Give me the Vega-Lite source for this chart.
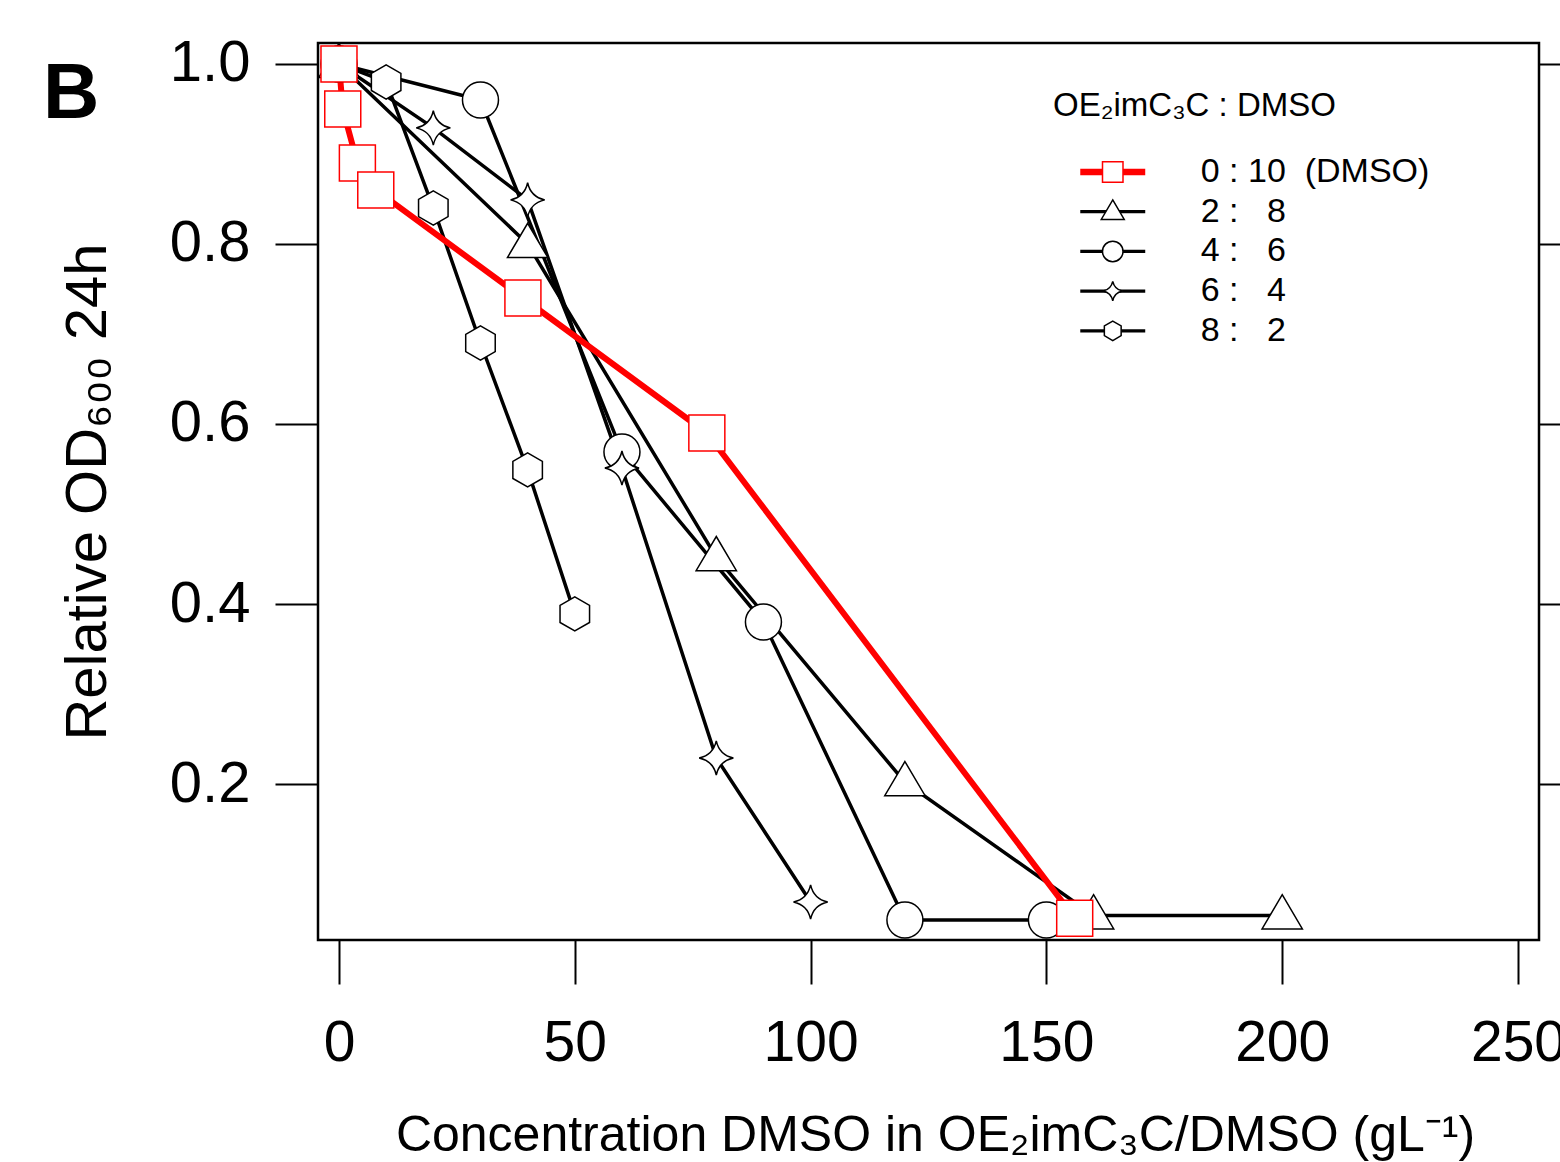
{
  "$schema": "https://vega.github.io/schema/vega-lite/v6.json",
  "width": 1221,
  "height": 897,
  "autosize": {"type": "none"},
  "padding": {"left": 318, "top": 43, "right": 21, "bottom": 222},
  "background": "white",
  "config": {
    "font": "Liberation Sans",
    "view": {"stroke": "black", "strokeWidth": 2.5},
    "axis": {"grid": false, "tickColor": "black", "labelColor": "black", "titleColor": "black", "titleFontWeight": "normal", "tickWidth": 2, "labelFlush": false, "labelOverlap": false, "labelBound": false},
    "title": {"color": "black"}
  },
  "title": {"text": "B", "anchor": "start", "frame": "group", "orient": "none", "offset": 0, "dx": -275, "dy": 75, "baseline": "alphabetic", "fontSize": 78, "fontWeight": "bold", "font": "Liberation Sans"},
  "data": {
    "values": [
      {"ratio": "2:8", "x": 0, "y": 1.0},
      {"ratio": "2:8", "x": 40, "y": 0.80},
      {"ratio": "2:8", "x": 80, "y": 0.452},
      {"ratio": "2:8", "x": 120, "y": 0.202},
      {"ratio": "2:8", "x": 160, "y": 0.054},
      {"ratio": "2:8", "x": 200, "y": 0.054},
      {"ratio": "4:6", "x": 0, "y": 1.0},
      {"ratio": "4:6", "x": 30, "y": 0.96},
      {"ratio": "4:6", "x": 60, "y": 0.569},
      {"ratio": "4:6", "x": 90, "y": 0.38},
      {"ratio": "4:6", "x": 120, "y": 0.049},
      {"ratio": "4:6", "x": 150, "y": 0.049},
      {"ratio": "6:4", "x": 0, "y": 1.0},
      {"ratio": "6:4", "x": 20, "y": 0.929},
      {"ratio": "6:4", "x": 40, "y": 0.849},
      {"ratio": "6:4", "x": 60, "y": 0.551},
      {"ratio": "6:4", "x": 80, "y": 0.229},
      {"ratio": "6:4", "x": 100, "y": 0.069},
      {"ratio": "8:2", "x": 0, "y": 1.0},
      {"ratio": "8:2", "x": 10, "y": 0.98},
      {"ratio": "8:2", "x": 20, "y": 0.84},
      {"ratio": "8:2", "x": 30, "y": 0.69},
      {"ratio": "8:2", "x": 40, "y": 0.549},
      {"ratio": "8:2", "x": 50, "y": 0.389},
      {"ratio": "0:10", "x": 0, "y": 1.0},
      {"ratio": "0:10", "x": 0.8, "y": 0.95},
      {"ratio": "0:10", "x": 3.9, "y": 0.89},
      {"ratio": "0:10", "x": 7.8, "y": 0.86},
      {"ratio": "0:10", "x": 39, "y": 0.74},
      {"ratio": "0:10", "x": 78, "y": 0.59},
      {"ratio": "0:10", "x": 156, "y": 0.051}
    ]
  },
  "layer": [
    {
      "transform": [{"filter": "datum.ratio !== '0:10'"}],
      "mark": {"type": "line", "strokeWidth": 3.5},
      "encoding": {
        "x": {
          "field": "x", "type": "quantitative",
          "scale": {"domain": [-4.45, 254.45], "nice": false, "zero": false},
          "axis": {"orient": "bottom", "values": [0, 50, 100, 150, 200, 250], "tickSize": 44, "labelFontSize": 57, "labelPadding": 31, "title": "Concentration DMSO in OE₂imC₃C/DMSO (gL⁻¹)", "titleFontSize": 50, "titlePadding": 39, "titleX": 617, "domain": false}
        },
        "y": {
          "field": "y", "type": "quantitative",
          "scale": {"domain": [0.0267, 1.0233], "nice": false, "zero": false},
          "axis": {"orient": "left", "values": [0.2, 0.4, 0.6, 0.8, 1.0], "format": ".1f", "tickSize": 43, "labelFontSize": 58, "labelPadding": 25, "title": "Relative OD₆₀₀ 24h", "titleFontSize": 58, "titlePadding": 52, "domain": false}
        },
        "color": {
          "field": "ratio", "type": "nominal",
          "scale": {"domain": ["0:10", "2:8", "4:6", "6:4", "8:2"], "range": ["#ff0000", "black", "black", "black", "black"]},
          "legend": {
            "orient": "none", "legendX": 735, "legendY": 47, "padding": 0,
            "title": "OE₂imC₃C : DMSO", "titleFontSize": 33, "titleFontWeight": "normal", "titleColor": "black", "titlePadding": 32, "titleLimit": 2000,
            "labelFontSize": 34, "labelColor": "black", "labelOffset": 71, "rowPadding": 5.7, "labelLimit": 2000,
            "symbolSize": 420, "symbolOffset": 42.75, "symbolType": "M-3.17,0L3.17,0",
            "labelExpr": "datum.value === '0:10' ? '0 : 10\u00a0\u00a0(DMSO)' : replace(datum.value, ':', ' : \u2007')",
            "encode": {"symbols": {"update": {"strokeWidth": {"signal": "datum.value === '0:10' ? 6.5 : 3.2"}}}}
          }
        }
      }
    },
    {
      "transform": [{"filter": "datum.ratio === '0:10'"}],
      "mark": {"type": "line", "strokeWidth": 6},
      "encoding": {
        "x": {"field": "x", "type": "quantitative"},
        "y": {
          "field": "y", "type": "quantitative",
          "scale": {"domain": [0.0267, 1.0233], "nice": false, "zero": false},
          "axis": null
        },
        "color": {"field": "ratio", "type": "nominal"}
      }
    },
    {
      "mark": {"type": "point", "filled": true, "fill": "white", "opacity": 1, "size": 1296, "strokeWidth": 1.5},
      "encoding": {
        "x": {"field": "x", "type": "quantitative"},
        "y": {
          "field": "y", "type": "quantitative",
          "scale": {"domain": [0.0267, 1.0233], "nice": false, "zero": false},
          "axis": {"orient": "right", "values": [0.2, 0.4, 0.6, 0.8, 1.0], "tickSize": 25, "labels": false, "title": null, "domain": false}
        },
        "stroke": {
          "field": "ratio", "type": "nominal",
          "scale": {"range": ["#ff0000", "black", "black", "black", "black"]},
          "legend": {
            "orient": "none", "legendX": 735, "legendY": 47, "padding": 0,
            "title": "OE₂imC₃C : DMSO", "titleFontSize": 33, "titleFontWeight": "normal", "titleOpacity": 0, "titlePadding": 32, "titleLimit": 2000,
            "labelFontSize": 34, "labelOpacity": 0, "labelOffset": 71, "rowPadding": 5.7, "labelLimit": 2000,
            "symbolSize": 420, "symbolOffset": 42.75, "symbolStrokeWidth": 1.5,
            "labelExpr": "datum.value === '0:10' ? '0 : 10\u00a0\u00a0(DMSO)' : replace(datum.value, ':', ' : \u2007')",
            "encode": {"symbols": {"update": {"fill": {"value": "white"}, "strokeWidth": {"value": 1.5}}}}
          }
        },
        "shape": {
          "field": "ratio", "type": "nominal",
          "scale": {"range": ["square", "M0,-1.15L1.12,0.75L-1.12,0.75Z", "circle", "M0,-0.95Q0.17,-0.17,0.95,0Q0.17,0.17,0,0.95Q-0.17,0.17,-0.95,0Q-0.17,-0.17,0,-0.95Z", "M0,-0.95L0.82,-0.475L0.82,0.475L0,0.95L-0.82,0.475L-0.82,-0.475Z"]},
          "legend": {
            "orient": "none", "legendX": 735, "legendY": 47, "padding": 0,
            "title": "OE₂imC₃C : DMSO", "titleFontSize": 33, "titleFontWeight": "normal", "titleOpacity": 0, "titlePadding": 32, "titleLimit": 2000,
            "labelFontSize": 34, "labelOpacity": 0, "labelOffset": 71, "rowPadding": 5.7, "labelLimit": 2000,
            "symbolSize": 420, "symbolOffset": 42.75, "symbolStrokeWidth": 1.5,
            "labelExpr": "datum.value === '0:10' ? '0 : 10\u00a0\u00a0(DMSO)' : replace(datum.value, ':', ' : \u2007')",
            "encode": {"symbols": {"update": {"fill": {"value": "white"}, "strokeWidth": {"value": 1.5}}}}
          }
        }
      }
    }
  ],
  "resolve": {"scale": {"y": "independent"}}
}
